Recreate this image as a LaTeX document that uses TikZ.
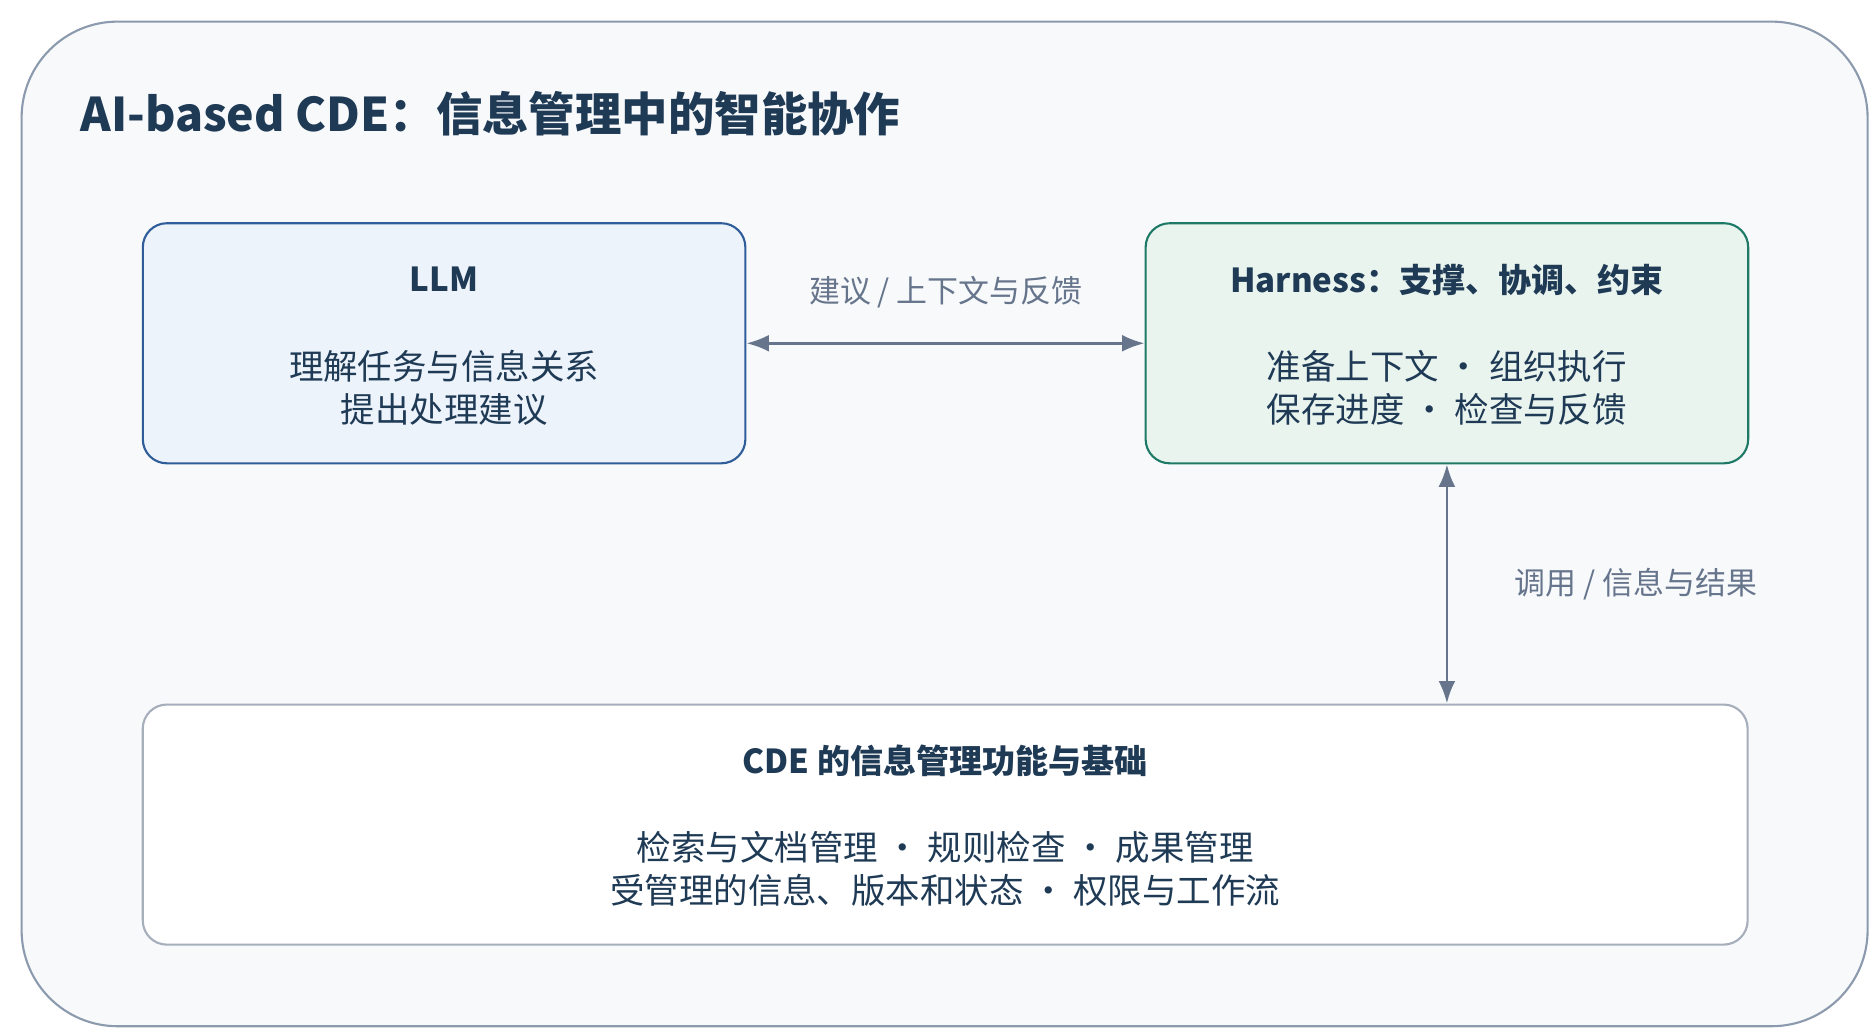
\documentclass[tikz,border=0pt]{standalone}
\usepackage{fontspec}
\setmainfont{Noto Sans CJK SC}
\usetikzlibrary{positioning,arrows.meta}
\definecolor{navy}{HTML}{1F3A55}
\definecolor{linkgray}{HTML}{66758C}
\definecolor{framegray}{HTML}{8C9AAE}
\definecolor{framefill}{HTML}{F7F9FB}
\definecolor{llmfill}{HTML}{EDF3FB}
\definecolor{llmdraw}{HTML}{2F5D9A}
\definecolor{harnessfill}{HTML}{EAF4EF}
\definecolor{harnessdraw}{HTML}{1E7A66}
\definecolor{cdedraw}{HTML}{A6AEBC}
\begin{document}
\begin{tikzpicture}
[x=0.03cm, y=-0.03cm,
% STYLES
% the box style is used for the three blocks
box/.style={rectangle, rounded corners=0.6cm, line width=1.5pt, minimum width=15.06cm, minimum height=6cm},
% the head style is used for the bold title of each block
head/.style={font=\fontsize{23.5}{28}\selectfont\bfseries, text=navy},
% the body style is used for the text lines of each block
body/.style={font=\fontsize{24.5}{31}\selectfont, text=navy, align=center},
% the link style is used for the arrows and their labels
link/.style={{Latex[length=16pt,width=12pt]}-{Latex[length=16pt,width=12pt]}, line width=2pt, draw=linkgray},
linklabel/.style={font=\fontsize{22}{24}\selectfont, text=linkgray}]
\useasboundingbox (0,0) rectangle (1563,863);

% Frame and title
\draw [rounded corners=2.4cm, line width=1.5pt, draw=framegray, fill=framefill] (18,18) rectangle (1556,855);
\node [anchor=west, font=\fontsize{33}{36}\selectfont\bfseries, text=navy] (title) at (63,95) {AI-based CDE：信息管理中的智能协作};

% Draw blocks
\node [box, fill=llmfill, draw=llmdraw] (llm) at (370,286) {};
\node [box, fill=harnessfill, draw=harnessdraw] (harness) at (1205.5,286) {};
\node [box, minimum width=40.11cm, fill=white, draw=cdedraw] (cde) at (787.5,687) {};

% Block texts
\node [head] (llm-head) at (370,233) {LLM};
\node [body] (llm-body) at (370,323) {理解任务与信息关系\\提出处理建议};
\node [head] (harness-head) at (1205.5,233) {Harness：支撑、协调、约束};
\node [body] (harness-body) at (1205.5,323) {准备上下文 · 组织执行\\保存进度 · 检查与反馈};
\node [head] (cde-head) at (787.5,634) {CDE 的信息管理功能与基础};
\node [body] (cde-body) at (787.5,724) {检索与文档管理 · 规则检查 · 成果管理\\受管理的信息、版本和状态 · 权限与工作流};

% Draw the links between blocks
\draw [link] (llm.east) -- (harness.west);
\node [linklabel] (talk) at (788,243) {建议 / 上下文与反馈};
\draw [link] (harness.south) -- (harness.south |- cde.north);
\node [linklabel] (call) at (1363,487) {调用 / 信息与结果};
\end{tikzpicture}
\end{document}
